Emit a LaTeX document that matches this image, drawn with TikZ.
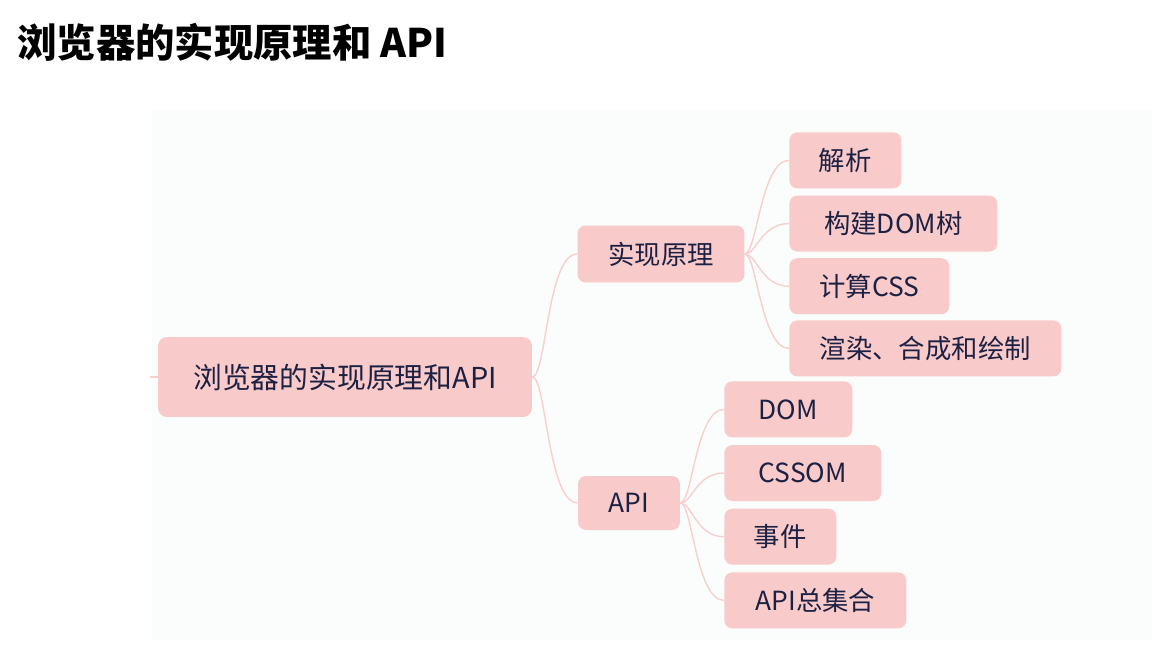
\documentclass[tikz,border=0pt]{standalone}
\usepackage{fontspec}
\setmainfont{Noto Sans CJK SC}
\usetikzlibrary{positioning}
\definecolor{boxpink}{RGB}{248,202,202}
\definecolor{linkpink}{RGB}{247,208,206}
\definecolor{inkblue}{RGB}{28,32,66}
\definecolor{panelgray}{RGB}{251,252,252}
\tikzset{rootbox/.style={rectangle, rounded corners=0.18cm,
minimum width=7.48cm,
minimum height=1.6cm,
text centered,
fill=boxpink,
text=inkblue,
font=\fontsize{16.4}{19}\selectfont},
branchbox/.style={rectangle, rounded corners=0.16cm,
minimum height=1.14cm,
text centered,
fill=boxpink,
text=inkblue,
font=\fontsize{15}{18}\selectfont},
leafbox/.style={branchbox, minimum height=1.12cm},
link/.style={draw=linkpink, line width=0.8pt}}

\begin{document}
\begin{tikzpicture}[x=0.02cm, y=-0.02cm]
        \useasboundingbox (0,0) rectangle (1154,646);
        \fill[panelgray] (152,110) rectangle (1152,640);
        \node (title) [anchor=base west, inner sep=0pt, font=\fontsize{22.4}{26}\selectfont\bfseries] at (17,57) {浏览器的实现原理和 API};
        % main topic and its two branches
        \node (root) [rootbox] at (345,377) {浏览器的实现原理和API};
        \coordinate (stub) at (150,377);
        \node (impl) [branchbox, minimum width=3.34cm] at (661,254) {实现原理};
        \node (api) [branchbox, minimum width=2.04cm, minimum height=1.08cm] at (629,503) {API};
        % leaves of 实现原理
        \node (parse) [leafbox, minimum width=2.24cm, anchor=north west] at (789,132) {解析};
        \node (domtree) [leafbox, minimum width=4.16cm, below right=0.13cm and 0cm of parse.south west] {构建DOM树};
        \node (calccss) [leafbox, minimum width=3.2cm, below right=0.12cm and 0cm of domtree.south west] {计算CSS};
        \node (paint) [leafbox, minimum width=5.44cm, below right=0.11cm and 0cm of calccss.south west] {渲染、合成和绘制};
        % leaves of API
        \node (dom) [leafbox, minimum width=2.56cm, anchor=north west] at (724,381) {DOM};
        \node (cssom) [leafbox, minimum width=3.14cm, below right=0.14cm and 0cm of dom.south west] {CSSOM};
        \node (events) [leafbox, minimum width=2.24cm, below right=0.14cm and 0cm of cssom.south west] {事件};
        \node (apiall) [leafbox, minimum width=3.64cm, below right=0.14cm and 0cm of events.south west] {API总集合};
        % connectors
        \draw [link] (stub) -- (root.west);
        \draw [link] (root.east) .. controls +(14,0) and +(-30,0) .. (impl.west);
        \draw [link] (root.east) .. controls +(14,0) and +(-30,0) .. (api.west);
        \foreach \leaf in {parse, domtree, calccss, paint}
            \draw [link] (impl.east) .. controls +(12,0) and +(-28,0) .. (\leaf.west);
        \foreach \leaf in {dom, cssom, events, apiall}
            \draw [link] (api.east) .. controls +(12,0) and +(-28,0) .. (\leaf.west);
    \end{tikzpicture}
\end{document}
